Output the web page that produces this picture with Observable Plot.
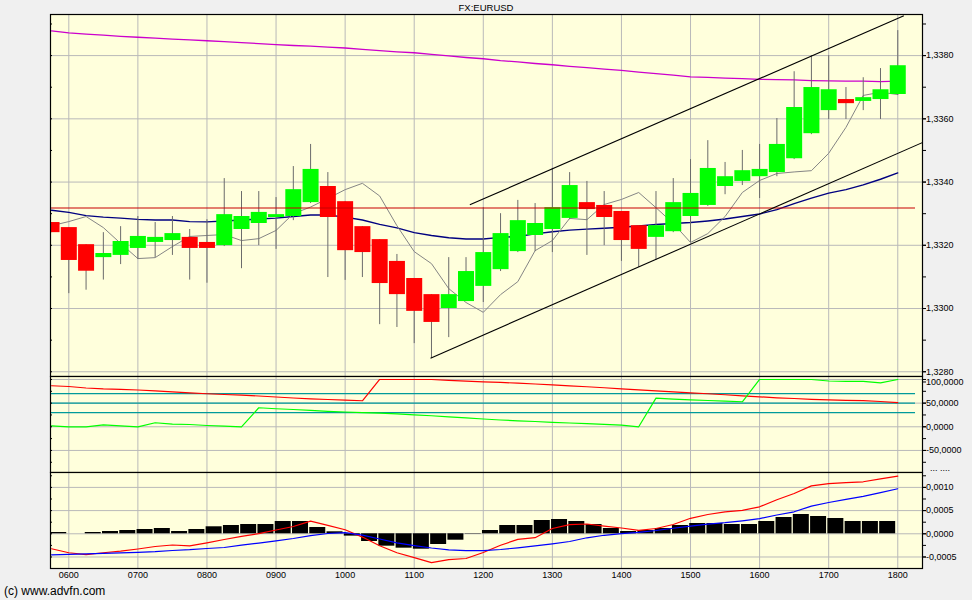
<!DOCTYPE html>
<html><head><meta charset="utf-8">
<script src="https://cdn.jsdelivr.net/npm/d3@7"></script>
<script src="https://cdn.jsdelivr.net/npm/@observablehq/plot@0.6"></script>
<style>
html,body{margin:0;padding:0;background:#f0f0f0;}
#root{position:relative;width:972px;height:600px;background:#f0f0f0;overflow:hidden;font-family:"Liberation Sans",Arial,sans-serif;}
#root svg{position:absolute;left:0;overflow:visible;}
.lbl{position:absolute;white-space:nowrap;color:#000;}
</style></head>
<body><div id="root">
<div class="lbl" style="left:0;width:972px;text-align:center;top:2.4px;font-size:9.5px;line-height:12px;">FX:EURUSD</div>
<div class="lbl" style="left:930px;top:462px;font-size:9px;line-height:12px;">... ....</div>
<div class="lbl" style="left:4px;top:584px;font-size:12px;line-height:14px;">(c) www.advfn.com</div>
</div>
<script>
// ---------- data ----------
const times = ["05:45","06:00","06:15","06:30","06:45","07:00","07:15","07:30","07:45","08:00",
"08:15","08:30","08:45","09:00","09:15","09:30","09:45","10:00","10:15","10:30",
"10:45","11:00","11:15","11:30","11:45","12:00","12:15","12:30","12:45","13:00",
"13:15","13:30","13:45","14:00","14:15","14:30","14:45","15:00","15:15","15:30",
"15:45","16:00","16:15","16:30","16:45","17:00","17:15","17:30","17:45","18:00"];

const open = [1.33272,1.33256,1.33202,1.33161,1.33168,1.33190,1.33209,1.33215,1.33225,1.33209,
1.33199,1.33250,1.33269,1.33288,1.33291,1.33335,1.33386,1.33338,1.33259,1.33218,
1.33149,1.33095,1.33044,1.33000,1.33022,1.33070,1.33123,1.33180,1.33231,1.33250,
1.33285,1.33335,1.33326,1.33307,1.33262,1.33225,1.33243,1.33291,1.33326,1.33386,
1.33402,1.33417,1.33430,1.33474,1.33553,1.33626,1.33661,1.33655,1.33661,1.33677];
const high = [1.33272,1.33256,1.33202,1.33240,1.33259,1.33291,1.33272,1.33291,1.33250,1.33281,
1.33411,1.33370,1.33370,1.33351,1.33449,1.33519,1.33430,1.33338,1.33259,1.33218,
1.33171,1.33095,1.33044,1.33161,1.33161,1.33319,1.33300,1.33342,1.33332,1.33443,
1.33430,1.33402,1.33370,1.33307,1.33262,1.33370,1.33411,1.33471,1.33531,1.33462,
1.33500,1.33519,1.33601,1.33749,1.33800,1.33800,1.33699,1.33730,1.33759,1.33879];
const low = [1.33240,1.33047,1.33058,1.33090,1.33139,1.33155,1.33161,1.33168,1.33090,1.33080,
1.33196,1.33126,1.33199,1.33187,1.33278,1.33332,1.33098,1.33089,1.33098,1.32949,
1.32940,1.32889,1.32842,1.32908,1.33022,1.33019,1.33117,1.33177,1.33180,1.33177,
1.33281,1.33168,1.33199,1.33149,1.33130,1.33152,1.33240,1.33209,1.33323,1.33360,
1.33389,1.33348,1.33417,1.33471,1.33550,1.33598,1.33598,1.33626,1.33598,1.33674];
const close = [1.33240,1.33152,1.33118,1.33174,1.33212,1.33228,1.33225,1.33237,1.33190,1.33190,
1.33297,1.33291,1.33304,1.33297,1.33376,1.33440,1.33288,1.33183,1.33177,1.33079,
1.33044,1.32991,1.32956,1.33044,1.33117,1.33177,1.33237,1.33278,1.33269,1.33319,
1.33389,1.33313,1.33288,1.33215,1.33187,1.33262,1.33335,1.33364,1.33443,1.33417,
1.33436,1.33440,1.33519,1.33636,1.33699,1.33692,1.33648,1.33667,1.33692,1.33768];

const maFast = [1.33262,1.33275,1.33291,1.33256,1.33206,1.33158,1.33161,1.33196,1.33228,1.33231,
1.33234,1.33215,1.33221,1.33247,1.33300,1.33321,1.33348,1.33376,1.33396,1.33356,
1.33262,1.33180,1.33142,1.33063,1.33019,1.32988,1.33044,1.33085,1.33183,1.33215,
1.33285,1.33281,1.33329,1.33345,1.33367,1.33319,1.33269,1.33209,1.33237,1.33291,
1.33367,1.33405,1.33427,1.33432,1.33436,1.33491,1.33573,1.33674,1.33684,1.33677];
const maMid = [1.33311,1.33304,1.33294,1.33289,1.33286,1.33282,1.33280,1.33280,1.33275,1.33274,
1.33277,1.33280,1.33283,1.33286,1.33291,1.33296,1.33296,1.33289,1.33280,1.33266,
1.33255,1.33240,1.33231,1.33224,1.33220,1.33220,1.33225,1.33228,1.33236,1.33243,
1.33248,1.33251,1.33254,1.33257,1.33261,1.33266,1.33269,1.33272,1.33277,1.33283,
1.33291,1.33299,1.33313,1.33332,1.33349,1.33365,1.33376,1.33391,1.33409,1.33429];
const maSlow = [1.33878,1.33872,1.33868,1.33865,1.33861,1.33858,1.33855,1.33852,1.33850,1.33847,
1.33844,1.33841,1.33838,1.33835,1.33832,1.33830,1.33827,1.33824,1.33820,1.33816,
1.33812,1.33809,1.33804,1.33799,1.33794,1.33790,1.33784,1.33780,1.33775,1.33771,
1.33766,1.33762,1.33757,1.33753,1.33748,1.33743,1.33738,1.33733,1.33731,1.33729,
1.33727,1.33725,1.33724,1.33723,1.33721,1.33720,1.33719,1.33719,1.33718,1.33719];

const aroonDown = [86.7,85.2,82,80,78.9,77.8,76.1,74,71.9,69.8,
68.3,66.8,65.1,63,60.9,59.2,57.7,56.2,55,100,
100,100,100,97.9,96.4,95.1,93.7,92.2,90.5,88.4,
86.3,84.6,82.5,80.3,78.2,76.1,74,71.9,69.8,67.7,
65.5,63.4,61.3,59.8,58.1,57.1,56,55.5,53.5,51];
const aroonUp = [2,0,0,4,2,0,8.5,5.5,4.9,2.7,
1.3,0,40.2,38.1,36.6,34.5,32.8,31.3,29.8,28.8,
27.5,25.4,23.3,21.1,19,16.5,14.4,12.7,11.2,9.5,
8,6.6,5.3,3.4,0,60.5,58.4,56.7,55.6,54.1,
52.9,100,100,100,100,96.8,95.8,95.8,93,100];

const macdLine = [-0.000323,-0.000409,-0.000450,-0.000409,-0.000375,-0.000328,-0.000274,-0.000241,-0.000259,-0.000194,
-0.000123,-0.000054,0.000004,0.000082,0.000157,0.000272,0.000181,0.000088,-0.000071,-0.000259,
-0.000409,-0.000515,-0.000623,-0.000558,-0.000532,-0.000403,-0.000248,-0.000119,-0.000084,0.000114,
0.000196,0.000211,0.000166,0.000125,0.000075,0.000114,0.000200,0.000334,0.000416,0.000472,
0.000506,0.000582,0.000733,0.000869,0.001032,0.001080,0.001101,0.001121,0.001185,0.001241];
const signalLine = [-0.000453,-0.000442,-0.000431,-0.000422,-0.000412,-0.000399,-0.000384,-0.000360,-0.000343,-0.000317,
-0.000295,-0.000246,-0.000200,-0.000151,-0.000101,-0.000041,0.000006,0.000024,-0.000030,-0.000112,
-0.000194,-0.000254,-0.000306,-0.000347,-0.000362,-0.000362,-0.000338,-0.000302,-0.000261,-0.000216,
-0.000166,-0.000086,-0.000032,0.000002,0.000032,0.000071,0.000119,0.000166,0.000207,0.000239,
0.000280,0.000328,0.000405,0.000474,0.000597,0.000675,0.000741,0.000808,0.000888,0.000970];
// histogram bars, 06:00 .. 18:00
const histTimes = times.slice(1);
const histogram = [0.000028,0,0.000028,0.00005,0.000071,0.000093,0.000114,0.00005,0.000093,0.000151,
0.000179,0.0002,0.0002,0.000265,0.000265,0.000136,0.000043,-0.00005,-0.000166,-0.000267,
-0.00031,-0.000332,-0.000231,-0.000138,-0.000008,0.000071,0.000179,0.000179,0.000287,0.000308,
0.000265,0.0002,0.000114,0.00005,0.000071,0.000114,0.000179,0.000222,0.000222,0.0002,
0.0002,0.000265,0.000351,0.000416,0.000373,0.00033,0.000265,0.000265,0.000265];

// drawn trend channel (hour, price) and level lines
const trendLines = [
  {x1: 11.805, y1: 1.33328, x2: 18.088, y2: 1.33926},
  {x1: 11.236, y1: 1.32843, x2: 18.368, y2: 1.33526}
];
const priceLevel = [1.33318];
const aroonLevels = [70, 50, 30];
const levelEnd = 18.257;

// ticks
const hourTicks = [6,7,8,9,10,11,12,13,14,15,16,17,18];
const hourLabels = ["0600","0700","0800","0900","1000","1100","1200","1300","1400","1500","1600","1700","1800"];
const priceTicks = [1.328,1.330,1.332,1.334,1.336,1.338];
const priceMinor = [1.328,1.329,1.330,1.331,1.332,1.333,1.334,1.335,1.336,1.337,1.338,1.339];
const aroonTop = [100];
const aroonTicks = [50,0,-50];
const aroonGrid = [100,50,0,-50];
const aroonMinor = [100,75,50,25,0,-25,-50,-75];
const macdTicks = [0.001,0.0005,0,-0.0005];
const macdMinor = [0.00125,0.001,0.00075,0.0005,0.00025,0,-0.00025,-0.0005];

// ---------- build ----------
const toHour = s => +s.slice(0,2) + +s.slice(3)/60;
const rows = times.map((s,i) => ({
  t: toHour(s), open: open[i], high: high[i], low: low[i], close: close[i],
  maFast: maFast[i], maMid: maMid[i], maSlow: maSlow[i],
  aDown: aroonDown[i], aUp: aroonUp[i], macd: macdLine[i], signal: signalLine[i]
}));
const hist = histTimes.map((s,i) => ({t: toHour(s), v: histogram[i]}));

const bg = "#ffffdc", gridColor = "#b9b9b9";
const xDomain = [5.735, 18.358];
const loc = d3.formatLocale({decimal: ",", thousands: ".", grouping: [3], currency: ["",""], minus: "-"});
const fmt4 = loc.format(".4f");
const common = {
  width: 972, marginLeft: 50, marginRight: 50,
  style: {background: "transparent", fontFamily: "Liberation Sans, Arial, sans-serif", fontSize: "9px", color: "#000", overflow: "visible"}
};
const grid = (ticks) => [
  Plot.gridX(hourTicks, {stroke: gridColor, strokeOpacity: 1, strokeWidth: 1}),
  Plot.gridY(ticks, {stroke: gridColor, strokeOpacity: 1, strokeWidth: 1})
];
const minorTicks = (minor) => [
  Plot.axisY(minor, {anchor: "right", tickSize: 3, tickFormat: () => "", label: null}),
  Plot.axisY(minor, {anchor: "left", tickSize: -2, tickFormat: () => "", label: null})
];
const labels = (major, f, dy = 0) =>
  Plot.axisY(major, {anchor: "right", tickSize: 3, tickPadding: 0.5, tickFormat: f, fontSize: 9, label: null, dy});

const main = Plot.plot({
  ...common, height: 376, marginTop: 14, marginBottom: 0,
  x: {domain: xDomain, axis: null},
  y: {domain: [1.32785, 1.33930], axis: null},
  marks: [
    Plot.frame({fill: bg, stroke: "none"}),
    ...grid(priceTicks),
    Plot.line(rows, {x: "t", y: "maSlow", stroke: "#cc00cc", strokeWidth: 1.3, clip: true}),
    Plot.line(rows, {x: "t", y: "maMid", stroke: "#000080", strokeWidth: 1.4, clip: true}),
    Plot.line(rows, {x: "t", y: "maFast", stroke: "#858585", strokeWidth: 1, clip: true}),
    Plot.ruleX(rows, {x: "t", y1: "low", y2: "high", stroke: "#6b6b6b", strokeWidth: 1, clip: true}),
    Plot.ruleX(rows, {x: "t", y1: "open", y2: "close", stroke: d => d.close >= d.open ? "#00ff00" : "#ff0000", strokeWidth: 16, clip: true}),
    Plot.ruleY(priceLevel, {x1: xDomain[0], x2: levelEnd, stroke: "#c80000", strokeWidth: 1.1}),
    Plot.link(trendLines, {x1: "x1", y1: "y1", x2: "x2", y2: "y2", stroke: "#000", strokeWidth: 1.1, clip: true}),
    Plot.frame({stroke: "#000", strokeWidth: 1.2}),
    ...minorTicks(priceMinor),
    labels(priceTicks, fmt4)
  ]
});
main.style.top = "0px";

const aroon = Plot.plot({
  ...common, height: 96, marginTop: 0, marginBottom: 0,
  x: {domain: xDomain, axis: null},
  y: {domain: [-96.6, 106.3], axis: null},
  marks: [
    Plot.frame({fill: bg, stroke: "none"}),
    ...grid(aroonGrid),
    Plot.ruleY(aroonLevels, {x1: xDomain[0], x2: levelEnd, stroke: "#009a9a", strokeWidth: 1.2}),
    Plot.line(rows, {x: "t", y: "aDown", stroke: "#ff0000", strokeWidth: 1.2, clip: true}),
    Plot.line(rows, {x: "t", y: "aUp", stroke: "#00ff00", strokeWidth: 1.2, clip: true}),
    Plot.frame({stroke: "#000", strokeWidth: 1.2}),
    ...minorTicks(aroonMinor),
    labels(aroonTicks, fmt4),
    labels(aroonTop, fmt4, 2.5)
  ]
});
aroon.style.top = "376px";

const macd = Plot.plot({
  ...common, height: 128, marginTop: 0, marginBottom: 32,
  x: {domain: xDomain, axis: null},
  y: {domain: [-0.000748, 0.001321], axis: null},
  marks: [
    Plot.frame({fill: bg, stroke: "none"}),
    ...grid(macdTicks),
    Plot.ruleX(hist, {x: "t", y1: 0, y2: "v", stroke: "#000", strokeWidth: 16, dx: -10.6, clip: true}),
    Plot.line(rows, {x: "t", y: "macd", stroke: "#ff0000", strokeWidth: 1.2, clip: true}),
    Plot.line(rows, {x: "t", y: "signal", stroke: "#0000ff", strokeWidth: 1.2, clip: true}),
    Plot.frame({stroke: "#000", strokeWidth: 1.2}),
    ...minorTicks(macdMinor),
    labels(macdTicks, fmt4),
    Plot.axisX(hourTicks, {anchor: "bottom", tickSize: 0, tickPadding: 3, fontSize: 9, label: null,
      tickFormat: d => hourLabels[hourTicks.indexOf(d)]})
  ]
});
macd.style.top = "472px";

const root = document.getElementById("root");
root.appendChild(main);
root.appendChild(aroon);
root.appendChild(macd);
</script>
</body></html>
